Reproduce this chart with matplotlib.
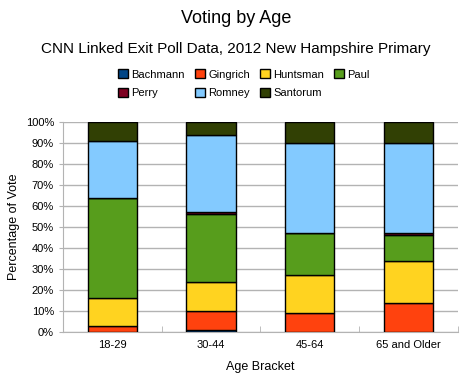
import matplotlib
matplotlib.use('Agg')
import matplotlib.pyplot as plt
import numpy as np

plt.rcParams['font.family'] = ['Liberation Sans', 'DejaVu Sans']

# Categories and shares of vote (%)
age_brackets = ['18-29', '30-44', '45-64', '65 and Older']
candidates = ['Bachmann', 'Gingrich', 'Huntsman', 'Paul', 'Perry', 'Romney', 'Santorum']

bachmann = [0, 1, 0, 0]
gingrich = [3, 9, 9, 14]
huntsman = [13, 14, 18, 20]
paul = [48, 32, 20, 12]
perry = [0, 1, 0, 1]
romney = [27, 37, 43, 43]
santorum = [9, 6, 10, 10]

colors = ['#004586', '#ff420e', '#ffd320', '#579d1c', '#7e0021', '#83caff', '#314004']

series = [bachmann, gingrich, huntsman, paul, perry, romney, santorum]

fig = plt.figure(figsize=(4.72, 3.84), dpi=100)
ax = fig.add_axes([0.1335, 0.1354, 0.8365, 0.5469])

x = np.arange(len(age_brackets))
bottom = np.zeros(len(age_brackets))
handles = []
for name, vals, col in zip(candidates, series, colors):
    vals = np.asarray(vals, dtype=float)
    b = ax.bar(x, vals, 0.5, bottom=bottom, color=col, edgecolor='black',
               linewidth=1.0, label=name, zorder=3)
    handles.append(b)
    bottom += vals

ax.set_xlim(-0.5, len(age_brackets) - 0.5)
ax.set_ylim(0, 100)
ax.set_yticks(np.arange(0, 101, 10))
ax.set_yticklabels(['%d%%' % v for v in range(0, 101, 10)], fontsize=8)
ax.set_xticks(x)
ax.set_xticklabels(age_brackets, fontsize=8)
ax.set_xticks(np.arange(-0.5, len(age_brackets)), minor=True)
ax.tick_params(axis='x', which='major', length=0, pad=6)
ax.tick_params(axis='x', which='minor', length=4, color='#b3b3b3', direction='in')
ax.tick_params(axis='y', length=3, color='#b3b3b3')

ax.yaxis.grid(True, color='#b3b3b3', linewidth=1.0, zorder=0)
for s in ['top', 'right']:
    ax.spines[s].set_visible(False)
ax.spines['left'].set_color('#b3b3b3')
ax.spines['bottom'].set_color('#b3b3b3')

ax.set_ylabel('Percentage of Vote', fontsize=9)
ax.set_xlabel('Age Bracket', fontsize=9, labelpad=8)

fig.text(0.5, 0.953, 'Voting by Age', ha='center', va='center', fontsize=13)
fig.text(0.5, 0.873, 'CNN Linked Exit Poll Data, 2012 New Hampshire Primary',
         ha='center', va='center', fontsize=11)

# legend reads row by row: reorder for matplotlib's column filling
order = [0, 4, 1, 5, 2, 6, 3]
fig.legend(handles=[handles[i] for i in order], loc='center left',
           bbox_to_anchor=(0.25, 0.782), ncol=4,
           frameon=False, fontsize=8, handlelength=0.9, handleheight=0.9,
           handletextpad=0.3, columnspacing=0.9, labelspacing=0.75,
           borderaxespad=0, borderpad=0)

fig.savefig('out.png', dpi=100)
